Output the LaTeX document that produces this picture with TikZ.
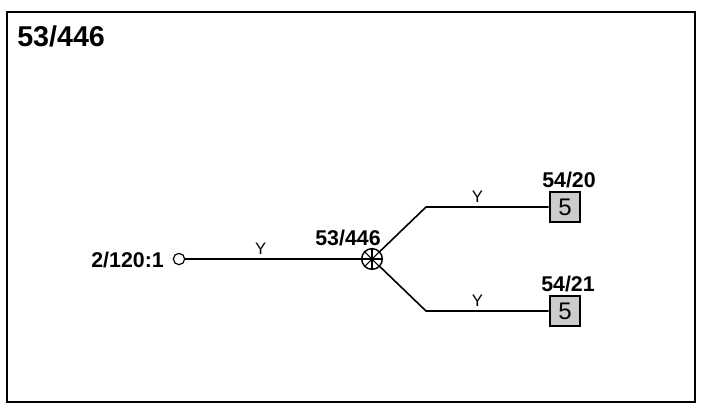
\documentclass[tikz,border=0pt]{standalone}
\usepackage{fontspec}
\setmainfont{Liberation Sans}
\tikzset{
  wire/.style={line width=1.2pt,black},
  lab/.style={font=\fontsize{16}{18}\selectfont\bfseries,inner sep=0pt,text=black},
  ylab/.style={font=\fontsize{12.5}{14}\selectfont,inner sep=0pt,text=black},
  termbox/.style={draw=black,line width=1.5pt,fill=black!20,minimum width=23pt,minimum height=23pt,inner sep=0pt,font=\fontsize{18}{20}\selectfont},
  openpin/.style={circle,draw=black,line width=.9pt,fill=white,minimum size=8.5pt,inner sep=0pt},
  splice/.style={circle,draw=black,line width=1.1pt,fill=white,minimum size=15.5pt,inner sep=0pt}
}
\begin{document}
\begin{tikzpicture}[x=.75pt,y=-.75pt]
\useasboundingbox (0,0) rectangle (704,412);
\draw[line width=.9pt] (7,12) rectangle (695,402);
\node[lab,font=\fontsize{21.5}{24}\selectfont\bfseries,anchor=west] (title) at (17,36) {53/446};
\node[openpin] (pin) at (179,259) {};
\node[lab,anchor=east] (pinlab) at (164,260) {2/120:1};
\node[splice] (sp) at (372,259) {};
\foreach \a in {0,45,...,135}{\draw[line width=.8pt] (sp.\a) -- (sp.\the\numexpr\a+180\relax);}
\node[lab] (splab) at (348,238) {53/446};
\node[termbox] (t1) at (565,207) {5};
\node[termbox] (t2) at (565,311) {5};
\node[lab] (t1lab) at (569,180) {54/20};
\node[lab] (t2lab) at (568,284) {54/21};
\coordinate (k1) at (426,207);
\coordinate (k2) at (426,311);
\draw[wire] (pin) -- node[ylab,above=3pt,pos=.43] {Y} (sp);
\draw[wire] (sp) -- (k1) -- node[ylab,above=2.5pt,pos=.42] {Y} (t1);
\draw[wire] (sp) -- (k2) -- node[ylab,above=2.5pt,pos=.42] {Y} (t2);
\end{tikzpicture}
\end{document}
